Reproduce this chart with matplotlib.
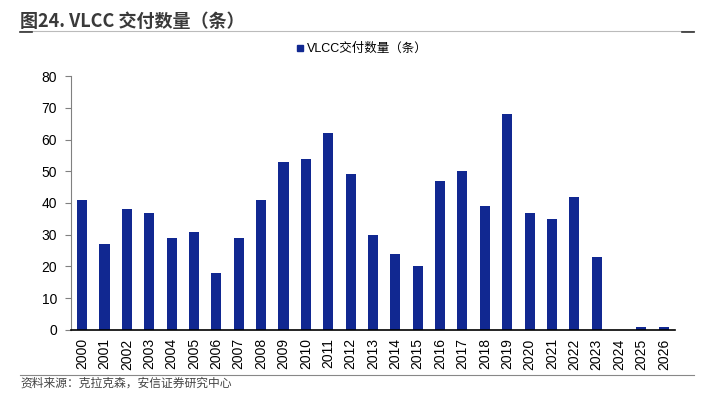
import matplotlib.pyplot as plt
import numpy as np
from matplotlib.lines import Line2D

plt.rcParams['font.family'] = ['Liberation Sans', 'Noto Sans CJK SC', 'DejaVu Sans']

# 数据
years = [str(y) for y in range(2000, 2027)]
deliveries = [41, 27, 38, 37, 29, 31, 18, 29, 41, 53, 54, 62, 49, 30, 24, 20,
              47, 50, 39, 68, 37, 35, 42, 23, 0, 1, 1]
yticks = [0, 10, 20, 30, 40, 50, 60, 70, 80]
bar_color = '#112891'

fig = plt.figure(figsize=(7.14, 3.99), dpi=100)
ax = fig.add_axes([0.0994, 0.173, 0.8459, 0.6365])

x = np.arange(len(years))
ax.bar(x, deliveries, width=0.45, color=bar_color, label='VLCC交付数量（条）')
ax.set_xlim(-0.5, len(years) - 0.5)
ax.set_ylim(0, 80)
ax.set_yticks(yticks)
ax.set_xticks(x)
ax.set_xticklabels(years, rotation=90)
ax.tick_params(axis='y', length=4, labelsize=10, color='#808080', pad=6)
ax.tick_params(axis='x', length=0, labelsize=10, pad=6)
for s in ['top', 'right']:
    ax.spines[s].set_visible(False)
ax.spines['left'].set_color('#808080')
ax.spines['bottom'].set_color('black')
ax.spines['bottom'].set_linewidth(1.2)

# 图例
fig.legend(handles=[Line2D([], [], marker='s', color='none', markerfacecolor=bar_color,
                           markeredgecolor=bar_color, markersize=5)],
           labels=['VLCC交付数量（条）'], loc='center', bbox_to_anchor=(0.505, 0.877),
           frameon=False, fontsize=9, handletextpad=0.1, handlelength=1)

# 标题与分隔线
fig.text(0.028, 0.945, '图24. VLCC 交付数量（条）', fontsize=13, fontweight='bold',
         color='#3a3a3a', ha='left', va='center',
         family=['Noto Sans CJK SC', 'DejaVu Sans'])
fig.add_artist(Line2D([0.028, 0.972], [0.922, 0.922], color='#bbbbbb', lw=0.8))
fig.add_artist(Line2D([0.028, 0.045], [0.921, 0.921], color='#333333', lw=1.2))
fig.add_artist(Line2D([0.955, 0.972], [0.921, 0.921], color='#333333', lw=1.2))

# 来源
fig.add_artist(Line2D([0.028, 0.972], [0.060, 0.060], color='#888888', lw=0.8))
fig.text(0.028, 0.040, '资料来源：克拉克森，安信证券研究中心', fontsize=8.5, style='italic',
         color='#444444', ha='left', va='center',
         family=['Noto Sans CJK SC', 'DejaVu Sans'])

fig.savefig('out.png', dpi=100)
